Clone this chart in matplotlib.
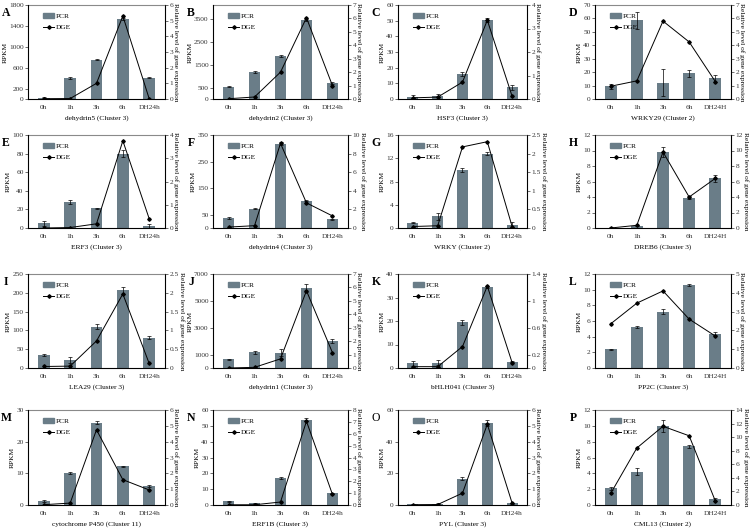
import matplotlib
matplotlib.use("Agg")
import matplotlib.pyplot as plt  # noqa: E402
from matplotlib.patches import Patch  # noqa: E402
from matplotlib.lines import Line2D  # noqa: E402

plt.rcParams["font.family"] = ["Liberation Serif", "DejaVu Serif"]

letters = list("ABCDEFGHIJKLMNOP")
titles = [
    "dehydrin5 (Cluster 3)", "dehydrin2 (Cluster 3)", "HSF3 (Cluster 3)", "WRKY29 (Cluster 2)",
    "ERF3 (Cluster 3)", "dehydrin4 (Cluster 3)", "WRKY (Cluster 2)", "DREB6 (Cluster 3)",
    "LEA29 (Cluster 3)", "dehydrin1 (Cluster 3)", "bHLH041 (Cluster 3)", "PP2C (Cluster 3)",
    "cytochrome P450 (Cluster 11)", "ERF1B (Cluster 3)", "PYL (Cluster 3)", "CML13 (Cluster 2)",
]
times_h = ["0h", "1h", "3h", "6h", "DH24h"]
times_H = ["0h", "1h", "3h", "6h", "DH24H"]
xlabels = [times_h, times_h, times_h, times_H,
           times_h, times_h, times_h, times_H,
           times_h, times_h, times_h, times_H,
           times_h, times_h, times_h, times_H]

# PCR bars (left axis, RPKM) and their error bars
pcr = [
    [20, 400, 750, 1530, 405],
    [540, 1180, 1870, 3450, 680],
    [1.5, 2, 16, 50.5, 7.5],
    [9.5, 58.5, 12, 19, 15.5],
    [5, 28, 21, 80, 2],
    [38, 73, 318, 103, 32],
    [0.9, 2.0, 10, 12.8, 0.6],
    [0.05, 0.3, 9.8, 3.9, 6.4],
    [34, 21, 110, 207, 80],
    [650, 1180, 1150, 5950, 2000],
    [2, 2.2, 19.5, 34.5, 2.7],
    [2.4, 5.2, 7.2, 10.6, 4.4],
    [1.2, 10, 26, 12.2, 6],
    [2.5, 1, 17, 54, 7.5],
    [0.5, 0.8, 16.5, 52, 1],
    [2.1, 4.2, 10, 7.4, 0.7],
]
pcr_err = [
    [10, 15, 10, 20, 10],
    [20, 30, 40, 30, 40],
    [1, 1, 1.5, 1.5, 1.5],
    [2, 6, 10, 2.5, 2.5],
    [2.5, 2.5, 1, 4, 2.5],
    [3, 3, 5, 2, 2],
    [0.1, 0.6, 0.4, 0.2, 0.5],
    [0.02, 0.05, 0.6, 0.2, 0.4],
    [3, 7, 7, 9, 4],
    [50, 120, 250, 300, 150],
    [1, 1, 1, 0.5, 0.3],
    [0.05, 0.1, 0.3, 0.1, 0.2],
    [0.3, 0.3, 0.4, 0.2, 0.3],
    [0.3, 0.3, 0.5, 1, 0.3],
    [0.2, 0.2, 1, 2, 0.2],
    [0.2, 0.45, 0.8, 0.2, 0.15],
]
# DGE line (right axis, relative level)
dge = [
    [0.02, 0.03, 1.0, 5.3, 0.02],
    [0.02, 0.15, 2.0, 6.05, 1.0],
    [0.05, 0.08, 0.72, 3.35, 0.12],
    [0.95, 1.35, 5.8, 4.25, 1.3],
    [0.0, 0.02, 0.18, 3.75, 0.4],
    [0.1, 0.25, 9.1, 2.7, 1.3],
    [0.04, 0.06, 2.18, 2.32, 0.04],
    [0.0, 0.35, 9.8, 4.0, 6.4],
    [0.04, 0.05, 0.72, 1.97, 0.12],
    [0.0, 0.05, 0.68, 5.75, 1.15],
    [0.02, 0.02, 0.32, 1.22, 0.08],
    [2.35, 3.45, 4.1, 2.6, 1.7],
    [0.02, 0.12, 4.75, 1.6, 0.95],
    [0.02, 0.02, 0.25, 7.05, 0.9],
    [0.02, 0.03, 0.75, 5.1, 0.12],
    [1.7, 8.4, 11.6, 10.2, 0.6],
]
left_ticks = [
    [0, 200, 600, 1000, 1400, 1800],
    [0, 500, 1500, 2500, 3500],
    [0, 10, 20, 30, 40, 50, 60],
    [0, 10, 20, 30, 40, 50, 60, 70],
    [0, 20, 40, 60, 80, 100],
    [0, 50, 150, 250, 350],
    [0, 4, 8, 12, 16],
    [0, 2, 4, 6, 8, 10, 12],
    [0, 50, 100, 150, 200, 250],
    [0, 1000, 3000, 5000, 7000],
    [0, 10, 20, 30, 40],
    [0, 2, 4, 6, 8, 10, 12],
    [0, 10, 20, 30],
    [0, 10, 20, 30, 40, 50, 60],
    [0, 20, 40, 60],
    [0, 2, 4, 6, 8, 10, 12],
]
left_top = [1800, 4100, 60, 70, 100, 350, 16, 12, 250, 7000, 40, 12, 30, 60, 60, 12]
right_ticks = [
    [0, 1, 2, 3, 4, 5, 6],
    [0, 1, 2, 3, 4, 5, 6, 7],
    [0, 1, 2, 3, 4],
    [0, 1, 2, 3, 4, 5, 6, 7],
    [0, 1, 2, 3, 4],
    [0, 2, 4, 6, 8, 10],
    [0, 0.5, 1, 1.5, 2, 2.5],
    [0, 2, 4, 6, 8, 10, 12],
    [0, 0.5, 1, 1.5, 2, 2.5],
    [0, 1, 2, 3, 4, 5, 6, 7],
    [0, 0.2, 0.6, 1, 1.4],
    [0, 1, 2, 3, 4, 5],
    [0, 1, 2, 3, 4, 5, 6],
    [0, 1, 2, 3, 4, 5, 6, 7, 8],
    [0, 1, 2, 3, 4, 5, 6],
    [0, 2, 4, 6, 8, 10, 12, 14],
]

# panel frame in pixels (figure is 750 x 531)
W, H = 750, 531
col_left = [28, 213, 398, 595]
col_right = [165, 348, 527, 731]
row_top = [5, 135, 274, 410]
row_bottom = [99, 228, 368, 505]

bar_color = "#6a7d88"
tick_color = "#333333"
fs = 5.3

fig = plt.figure(figsize=(7.5, 5.31), dpi=100)


def fmt(v):
    return f"{v:g}"


for i in range(16):
    r, c = divmod(i, 4)
    rect = [col_left[c] / W, 1 - row_bottom[r] / H,
            (col_right[c] - col_left[c]) / W, (row_bottom[r] - row_top[r]) / H]
    ax = fig.add_axes(rect)
    x = range(5)
    ax.bar(x, pcr[i], width=0.45, color=bar_color, zorder=2,
           yerr=pcr_err[i], error_kw=dict(ecolor="black", elinewidth=0.5, capsize=1.3, capthick=0.5))
    ax.set_xlim(-0.6, 4.6)
    ax.set_ylim(0, left_top[i])
    ax.set_yticks(left_ticks[i])
    ax.set_yticklabels([fmt(v) for v in left_ticks[i]])
    ax.set_xticks(list(x))
    ax.set_xticklabels(xlabels[i])
    ax.tick_params(axis="x", length=0, labelsize=fs, pad=4, colors=tick_color)
    ax.tick_params(axis="y", length=2, width=0.5, labelsize=fs, pad=1.2, colors=tick_color)
    ax.set_ylabel("RPKM", fontsize=fs, labelpad=1)
    ax.set_xlabel(titles[i], fontsize=fs, labelpad=4)
    for s in ("left", "bottom"):
        ax.spines[s].set_linewidth(0.6)
    ax.spines["top"].set_color("#8a8a8a")
    ax.spines["top"].set_linewidth(0.8)

    ax2 = ax.twinx()
    ax2.plot(x, dge[i], color="black", lw=0.7, marker="D", ms=1.8, zorder=3)
    ax2.set_ylim(0, right_ticks[i][-1])
    ax2.set_yticks(right_ticks[i])
    ax2.set_yticklabels([fmt(v) for v in right_ticks[i]])
    ax2.tick_params(axis="y", length=2, width=0.5, labelsize=fs, pad=1.2, colors=tick_color)
    ax2.set_ylabel("Relative level of gene expression", fontsize=fs, rotation=270, labelpad=4)
    ax2.spines["right"].set_linewidth(0.6)
    ax2.spines["top"].set_visible(False)

    handles = [Patch(color=bar_color, label="PCR"),
               Line2D([], [], color="black", lw=0.7, marker="D", ms=1.8, label="DGE")]
    ax.legend(handles=handles, loc="upper left", bbox_to_anchor=(0.08, 0.96), frameon=False,
              fontsize=fs, handlelength=1.5, handleheight=0.6, labelspacing=0.7,
              handletextpad=0.2, borderaxespad=0.2)

    weight = "normal" if letters[i] == "O" else "bold"
    fig.text((col_left[c] - 22) / W, 1 - (row_top[r] + 8) / H, letters[i], fontsize=8.5,
             fontweight=weight, ha="center", va="center")

fig.savefig("out.png", dpi=100)
